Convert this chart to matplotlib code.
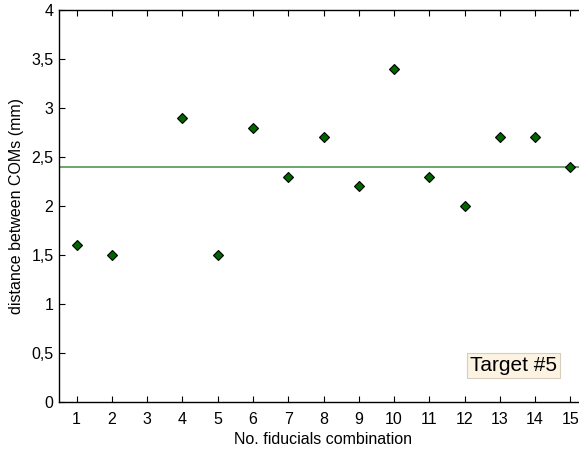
import matplotlib
matplotlib.use("Agg")
import matplotlib.pyplot as plt
from matplotlib.ticker import FuncFormatter

plt.rcParams['font.family'] = ['Liberation Sans', 'DejaVu Sans']

combination = [1, 2, 4, 5, 6, 7, 8, 9, 10, 11, 12, 13, 14, 15]
distance_mm = [1.6, 1.5, 2.9, 1.5, 2.8, 2.3, 2.7, 2.2, 3.4, 2.3, 2.0, 2.7, 2.7, 2.4]
mean_distance = 2.4
x_ticks = list(range(1, 16))
y_ticks = [0, 0.5, 1, 1.5, 2, 2.5, 3, 3.5, 4]

fig = plt.figure(figsize=(5.79, 4.51), dpi=100)
ax = fig.add_axes([59 / 579, 49 / 451, (588 - 59) / 579, (402 - 10) / 451])

ax.axhline(mean_distance, color='#5f9f5f', linewidth=1.3, zorder=2)
ax.plot(combination, distance_mm, linestyle='none', marker='D', markersize=5.5,
        markerfacecolor='#006400', markeredgecolor='black', markeredgewidth=0.8, zorder=3)

ax.set_xlim(0.5, 15.5)
ax.set_ylim(0, 4)
ax.set_xticks(x_ticks)
ax.set_yticks(y_ticks)
ax.yaxis.set_major_formatter(FuncFormatter(lambda v, p: ('%g' % v).replace('.', ',')))
ax.tick_params(direction='in', top=True, right=False, labelsize=11.5, length=4, width=0.8)
ax.tick_params(axis='x', pad=7)
ax.tick_params(axis='y', pad=4)
ax.spines['right'].set_visible(False)
for s in ax.spines.values():
    s.set_linewidth(1.0)

ax.set_xlabel('No. fiducials combination', fontsize=11.5, labelpad=4)
ax.set_ylabel('distance between COMs (mm)', fontsize=11.5, labelpad=5)

ax.text(0.941, 0.094, 'Target #5', transform=ax.transAxes, fontsize=15,
        ha='right', va='center',
        bbox=dict(boxstyle='square,pad=0.15', facecolor='#fdf3e3', edgecolor='#d8ccbc', linewidth=0.8))

fig.savefig('out.png', dpi=100)
